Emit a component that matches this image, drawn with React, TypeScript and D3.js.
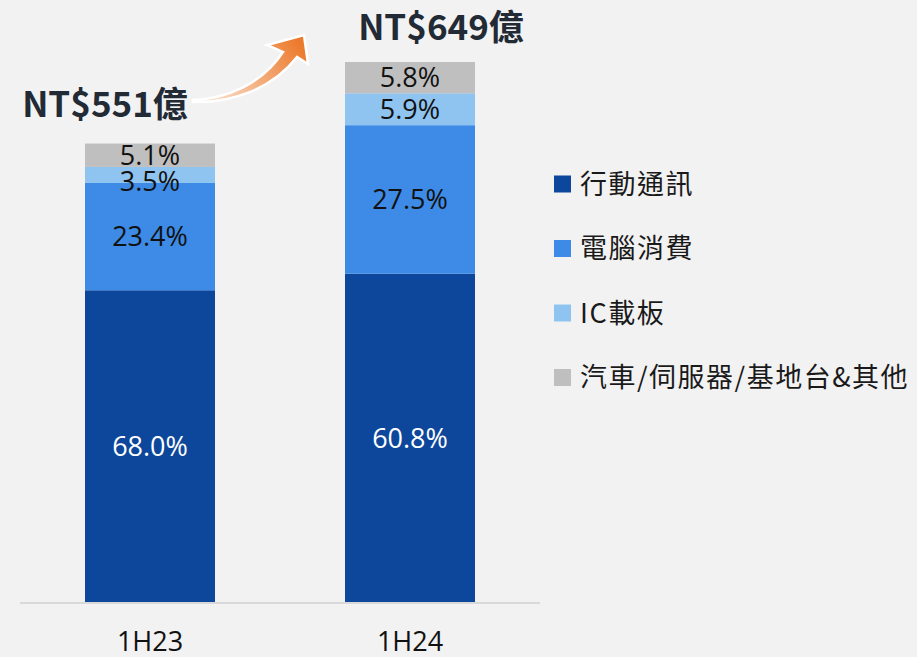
import React from "react";
import * as d3 from "d3";

const categories = ["1H23", "1H24"];
const totals = [551, 649];
const totalLabels = ["NT$551億", "NT$649億"];
const seriesNames = ["行動通訊", "電腦消費", "IC載板", "汽車/伺服器/基地台&其他"];
const mobile = [68.0, 60.8];
const pc = [23.4, 27.5];
const icSubstrate = [3.5, 5.9];
const others = [5.1, 5.8];
const colors = ["#0d479c", "#3d8be6", "#8fc4f0", "#bfbfbf"];
const labelColors = ["#ffffff", "#111111", "#111111", "#111111"];

const W = 917;
const H = 657;
const LABEL_FONT = "'Open Sans', 'Noto Sans', sans-serif";
const CJK_FONT = "'Noto Sans CJK TC', 'Noto Sans', sans-serif";

export default function App() {
  const series = [mobile, pc, icSubstrate, others];
  const x = d3.scalePoint<string>().domain(categories).range([150, 410]);
  const bw = 130;
  const y = d3.scaleLinear().domain([0, 649]).range([602, 62]);

  const table = categories.map((c, i) => {
    const row: any = { cat: c };
    seriesNames.forEach((s, k) => {
      row[s] = (series[k][i] / 100) * totals[i];
    });
    return row;
  });
  const stacked = d3.stack().keys(seriesNames)(table as any);

  // label positions with simple collision avoidance (top-down)
  const labelY: number[][] = stacked.map((layer) => layer.map((d) => (y(d[0]) + y(d[1])) / 2));
  categories.forEach((_, i) => {
    for (let k = stacked.length - 2; k >= 0; k--) {
      labelY[k][i] = Math.max(labelY[k][i], labelY[k + 1][i] + 26);
    }
  });

  return (
    <svg width={W} height={H} style={{ position: "absolute", left: 0, top: 0, background: "#f2f2f2" }}>
      <defs>
        <linearGradient id="ag" x1="0" y1="0.7" x2="1" y2="0.3">
          <stop offset="0" stopColor="#fbe3d1" />
          <stop offset="1" stopColor="#ec7a2c" />
        </linearGradient>
      </defs>
      <rect x={0} y={0} width={W} height={H} fill="#f2f2f2" />
      {stacked.map((layer, k) => (
        <g key={k}>
          {layer.map((d, i) => {
            const c = categories[i];
            const y0 = y(d[0]);
            const y1 = y(d[1]);
            return (
              <rect key={i} x={(x(c) as number) - bw / 2} y={y1} width={bw} height={y0 - y1} fill={colors[k]} />
            );
          })}
        </g>
      ))}
      {stacked.map((layer, k) => (
        <g key={"l" + k}>
          {layer.map((d, i) => (
            <text
              key={i}
              x={x(categories[i])}
              y={labelY[k][i]}
              dy="0.36em"
              textAnchor="middle"
              fontFamily={LABEL_FONT}
              fontSize={27}
              fill={labelColors[k]}
            >
              {series[k][i].toFixed(1)}%
            </text>
          ))}
        </g>
      ))}
      <line x1={20} x2={540} y1={603} y2={603} stroke="#d9d9d9" strokeWidth={2} />
      {categories.map((c) => (
        <text
          key={c}
          x={x(c)}
          y={641}
          dy="0.36em"
          textAnchor="middle"
          fontFamily={LABEL_FONT}
          fontSize={27}
          fill="#111111"
        >
          {c}
        </text>
      ))}
      {/* total labels */}
      <text x={105} y={104} dy="0.36em" textAnchor="middle" fontFamily={CJK_FONT} fontWeight={700} fontSize={35} fill="#222a35">
        {totalLabels[0]}
      </text>
      <text x={441} y={27} dy="0.36em" textAnchor="middle" fontFamily={CJK_FONT} fontWeight={700} fontSize={35} fill="#222a35">
        {totalLabels[1]}
      </text>
      {/* growth arrow */}
      <path
        d="M 193 100 C 226 99 262 84 283 52 L 267 45 L 304 35 L 308 64 L 297 57 C 272 89 232 103 193 102 Z"
        fill="url(#ag)"
        stroke="#ffffff"
        strokeWidth={2.5}
        strokeLinejoin="miter"
      />
      {/* legend */}
      {seriesNames.map((s, k) => {
        const ly = 184 + k * 64.5;
        return (
          <g key={s}>
            <rect x={554} y={ly - 8.5} width={17} height={17} fill={colors[k]} />
            <text
              x={580}
              y={ly}
              dy="0.36em"
              fontFamily={CJK_FONT}
              fontSize={27}
              letterSpacing={1.5}
              fill="#1a1a1a"
            >
              {s}
            </text>
          </g>
        );
      })}
    </svg>
  );
}
